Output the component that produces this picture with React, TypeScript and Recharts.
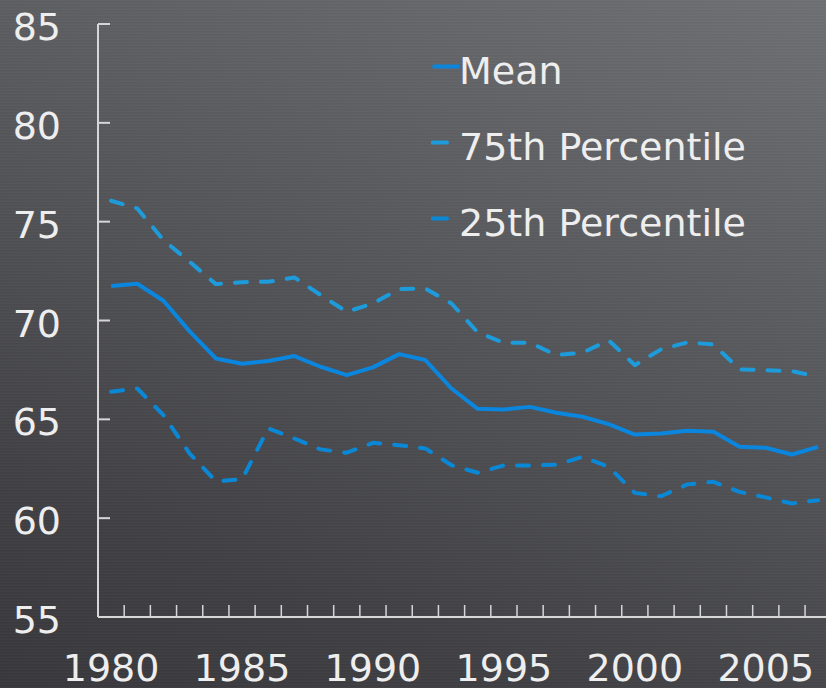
import { Legend, Line, LineChart, XAxis, YAxis } from "recharts";

const years = [
  1980, 1981, 1982, 1983, 1984, 1985, 1986, 1987, 1988, 1989, 1990, 1991, 1992, 1993,
  1994, 1995, 1996, 1997, 1998, 1999, 2000, 2001, 2002, 2003, 2004, 2005, 2006, 2007,
];
const mean = [
  71.74, 71.86, 71.0, 69.45, 68.08, 67.81, 67.95, 68.2, 67.66, 67.24, 67.63, 68.3, 68.0, 66.56,
  65.53, 65.5, 65.63, 65.33, 65.13, 64.76, 64.23, 64.28, 64.42, 64.37, 63.61, 63.56, 63.22, 63.61,
];
const p75 = [
  76.06, 75.67, 74.07, 72.97, 71.84, 71.94, 71.96, 72.18, 71.29, 70.44, 70.86, 71.59, 71.62, 70.86,
  69.4, 68.87, 68.87, 68.25, 68.37, 69.0, 67.74, 68.54, 68.89, 68.79, 67.53, 67.49, 67.44, 67.15,
];
const p25 = [
  66.39, 66.56, 65.21, 63.27, 61.87, 61.96, 64.54, 64.03, 63.48, 63.31, 63.81, 63.69, 63.53, 62.68,
  62.3, 62.67, 62.67, 62.7, 63.1, 62.6, 61.28, 61.11, 61.71, 61.84, 61.33, 61.05, 60.74, 60.91,
];
const yTicks = [55, 60, 65, 70, 75, 80, 85];
const yearLabels = [1980, 1985, 1990, 1995, 2000, 2005];
// small tick marks sit between the years
const minorTicks = years.slice(0, -1).map((y) => y + 0.5);

const data = years.map((year, i) => ({ year, mean: mean[i], p75: p75[i], p25: p25[i] }));

const series = [
  { key: "mean", name: "Mean", color: "#0a86de", dash: undefined as string | undefined },
  { key: "p75", name: "75th Percentile", color: "#1d9bdb", dash: "12 14" },
  { key: "p25", name: "25th Percentile", color: "#0a88d6", dash: "12 14" },
];

const axisColor = "#d6d6d6";
const textColor = "#eeeeee";
const font = "'DejaVu Sans', Verdana, sans-serif";
const xDomain = [1979.5, 2007.3];

function YTick({ x, y, payload }: any) {
  return (
    <g>
      <line x1={x + 37} x2={x + 49} y1={y} y2={y} stroke={axisColor} strokeWidth={2} />
      <text x={x} y={y} dy={16} textAnchor="end" fill={textColor} fontSize={38} fontFamily={font}>
        {payload.value}
      </text>
    </g>
  );
}

function XTick({ x, y, payload }: any) {
  if (yearLabels.includes(payload.value)) {
    return (
      <text x={x} y={y + 64} textAnchor="middle" fill={textColor} fontSize={38} fontFamily={font}>
        {payload.value}
      </text>
    );
  }
  return <line x1={x} x2={x} y1={y} y2={y - 12} stroke={axisColor} strokeWidth={1.5} />;
}

function LegendBox() {
  return (
    <div style={{ fontFamily: font, fontSize: 38, color: textColor }}>
      {series.map((s) => (
        <div key={s.key} style={{ display: "flex", height: 76, lineHeight: "76px", whiteSpace: "nowrap" }}>
          <svg width={28} height={76} style={{ flex: "none" }}>
            <line
              x1={1.5}
              x2={s.dash ? 16 : 28}
              y1={33.5}
              y2={33.5}
              stroke={s.color}
              strokeWidth={4}
              strokeLinecap={s.dash ? "round" : "butt"}
            />
          </svg>
          <span>{s.name}</span>
        </div>
      ))}
    </div>
  );
}

export default function App() {
  return (
    <div
      style={{
        position: "absolute",
        left: 0,
        top: 0,
        width: 826,
        height: 688,
        overflow: "hidden",
        background:
          "repeating-linear-gradient(0deg, rgba(255,255,255,0.025) 0px, rgba(255,255,255,0.025) 1px, rgba(0,0,0,0.03) 2px, rgba(0,0,0,0) 3px), linear-gradient(200deg, #6f7074 0%, #57585c 40%, #404044 80%, #38383c 100%)",
      }}
    >
      <LineChart width={826} height={688} data={data} margin={{ top: 24, right: 0, bottom: 0, left: 0 }}>
        <XAxis
          dataKey="year"
          type="number"
          domain={xDomain}
          ticks={[...minorTicks, ...yearLabels].sort((a, b) => a - b)}
          interval={0}
          height={71}
          tickSize={0}
          tickMargin={0}
          tickLine={false}
          axisLine={{ stroke: axisColor, strokeWidth: 2 }}
          tick={<XTick />}
        />
        <YAxis
          type="number"
          domain={[55, 85]}
          ticks={yTicks}
          interval={0}
          width={98}
          tickSize={0}
          tickMargin={37}
          tickLine={false}
          axisLine={{ stroke: axisColor, strokeWidth: 2 }}
          tick={<YTick />}
        />
        <Legend
          layout="horizontal"
          verticalAlign="middle"
          align="center"
          wrapperStyle={{ top: 33, left: 431, width: 390 }}
          content={() => <LegendBox />}
        />
        {series.map((s) => (
          <Line
            key={s.key}
            type="linear"
            dataKey={s.key}
            name={s.name}
            stroke={s.color}
            strokeWidth={4}
            strokeDasharray={s.dash}
            strokeLinecap={s.dash ? "round" : "butt"}
            strokeLinejoin="round"
            dot={false}
            activeDot={false}
            isAnimationActive={false}
          />
        ))}
      </LineChart>
    </div>
  );
}
